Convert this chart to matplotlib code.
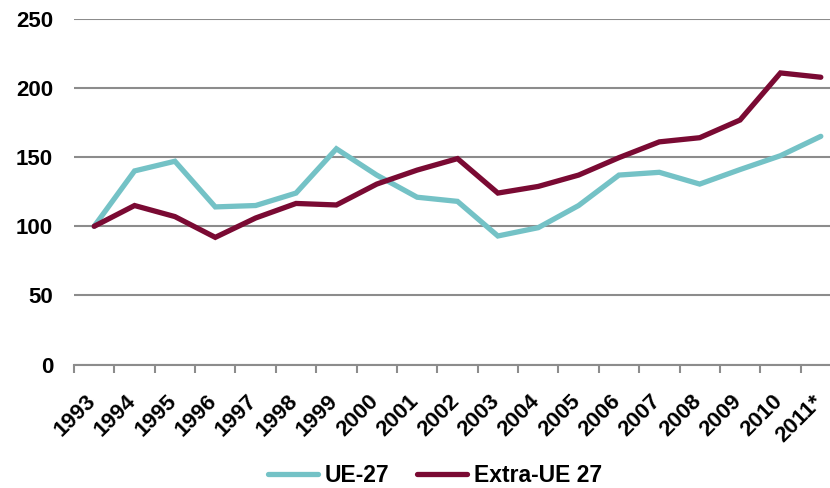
import numpy as np
import matplotlib.pyplot as plt
import matplotlib.transforms as mtransforms

plt.rcParams['font.family'] = ['Liberation Sans', 'DejaVu Sans']
plt.rcParams['font.weight'] = 'bold'

years = ['1993', '1994', '1995', '1996', '1997', '1998', '1999', '2000', '2001', '2002',
         '2003', '2004', '2005', '2006', '2007', '2008', '2009', '2010', '2011*']
ue27 = [100, 140, 147, 114, 115, 124, 156, 137, 121, 118,
        93, 99, 115, 137, 139, 130.5, 141, 151, 165]
extra_ue27 = [100, 115, 107, 92, 106, 116.5, 115.4, 130.5, 140.6, 148.9,
              124, 128.8, 137, 149.6, 161, 164, 176.8, 210.8, 207.7]

teal = '#74C2C6'
maroon = '#7A0A33'
grid_col = '#8C8C8C'

fig = plt.figure(figsize=(8.3, 4.88), dpi=100)
ax = fig.add_axes([74 / 830, 0.2527, 767 / 830, 0.709])

x = np.arange(len(years))
ax.plot(x, ue27, color=teal, lw=3.8, label='UE-27', solid_capstyle='round', solid_joinstyle='miter')
ax.plot(x, extra_ue27, color=maroon, lw=3.8, label='Extra-UE 27', solid_capstyle='round', solid_joinstyle='miter')

ax.set_xlim(-0.5, len(years) - 0.5)
ax.set_ylim(0, 250)
ax.set_yticks(range(0, 251, 50))
ax.yaxis.grid(True, color=grid_col, lw=1.5)
ax.set_axisbelow(True)

for s in ['top', 'right', 'left']:
    ax.spines[s].set_visible(False)
ax.spines['bottom'].set_color(grid_col)
ax.spines['bottom'].set_linewidth(1.5)

ax.tick_params(axis='y', length=0, pad=15, labelsize=16)
ax.set_xticks(x)
ax.set_xticklabels(years, rotation=45, ha='right', va='top', fontsize=16)
ax.tick_params(axis='x', which='major', length=0, pad=19)
ax.set_xticks(np.arange(-0.5, len(years), 1), minor=True)
ax.tick_params(axis='x', which='minor', length=5.5, width=1.5, color=grid_col)

# nudge rotated labels a little to the right
shift = mtransforms.ScaledTranslation(6 / 100, 0, fig.dpi_scale_trans)
for lab in ax.get_xticklabels():
    lab.set_transform(lab.get_transform() + shift)

fig.legend(loc='center', bbox_to_anchor=(435 / 830, 1 - 476 / 488), ncol=2, frameon=False,
           fontsize=16.5, handlelength=2.2, handletextpad=0.3, columnspacing=1.2)

fig.savefig('out.png', dpi=100)
